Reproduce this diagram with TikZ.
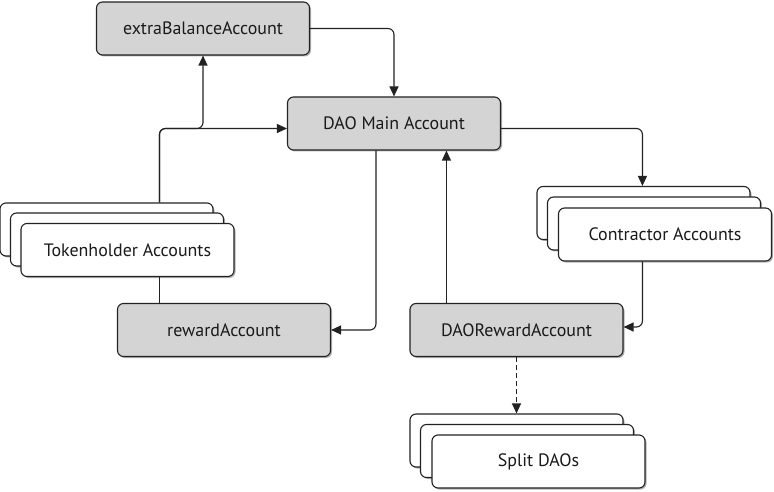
\documentclass[tikz,border=0pt]{standalone}
\usepackage{fontspec}
\setmainfont{PT Sans}
\usetikzlibrary{arrows.meta,calc,shadows}
\definecolor{boxgray}{HTML}{D4D4D4}
\definecolor{edge}{HTML}{222222}
\definecolor{txt}{HTML}{1A1A1A}
\begin{document}
\begin{tikzpicture}[x=1bp,y=-1bp,
  acct/.style={draw=edge, line width=1.1bp, rounded corners=6bp,
    minimum width=213bp, minimum height=53bp, inner sep=0pt,
    text=txt, font=\fontsize{18}{21}\selectfont,
    drop shadow={shadow xshift=1.5bp, shadow yshift=-1.5bp, fill=black!30, opacity=1}},
  grayacct/.style={acct, fill=boxgray},
  whiteacct/.style={acct, fill=white},
  conn/.style={draw=edge, line width=1.1bp, rounded corners=6bp},
  arr/.style={conn, -{Triangle[length=10bp,width=9bp]}}
]
\useasboundingbox (0,0) rectangle (774,492);
% gray accounts
\node[grayacct] (eb) at (203,28.5) {extraBalanceAccount};
\node[grayacct] (main) at (394,123.5) {DAO Main Account};
\node[grayacct] (reward) at (224,330) {rewardAccount};
\node[grayacct] (dr) at (516.5,330) {DAORewardAccount};
% tokenholder stack
\node[whiteacct] (th1) at (106.5,229.5) {};
\node[whiteacct] (th2) at (117,239.5) {};
\node[whiteacct] (th3) at (127.5,250) {Tokenholder Accounts};
% contractor stack
\node[whiteacct] (ca1) at (643.5,213) {};
\node[whiteacct] (ca2) at (654,223.5) {};
\node[whiteacct] (ca3) at (665,234.5) {Contractor Accounts};
% split DAO stack
\node[whiteacct] (sd1) at (516.5,440.5) {};
\node[whiteacct] (sd2) at (527,451) {};
\node[whiteacct] (sd3) at (538.5,461.5) {Split DAOs};
% helper coordinates
\coordinate (thx) at ($(th1.north west)+(160,0)$);
\coordinate (mainx) at ($(main.south west)+(89,0)$);
\coordinate (drx) at ($(dr.north west)+(37,0)$);
\coordinate (cax) at ($(ca1.north west)+(106,0)$);
\coordinate (mainin) at ($(main.west)+(0,5)$);
\coordinate (mainout) at ($(main.east)+(0,5)$);
% connectors
\draw[arr] (eb.east) -| (main.north);
\draw[arr] (thx) |- (mainin);
\draw[arr] (thx) |- (eb.south |- mainin) -- (eb.south);
\draw[conn] (thx |- th3.south) -- (thx |- reward.north);
\draw[arr] (mainx) |- (reward.east);
\draw[arr] (drx) -- (drx |- main.south);
\draw[arr] (mainout) -| (cax);
\draw[arr] (cax |- ca3.south) |- ($(dr.east)+(0,-3)$);
\draw[arr, dashed, dash pattern=on 5bp off 3bp] (dr.south) -- (sd1.north);
\end{tikzpicture}
\end{document}
